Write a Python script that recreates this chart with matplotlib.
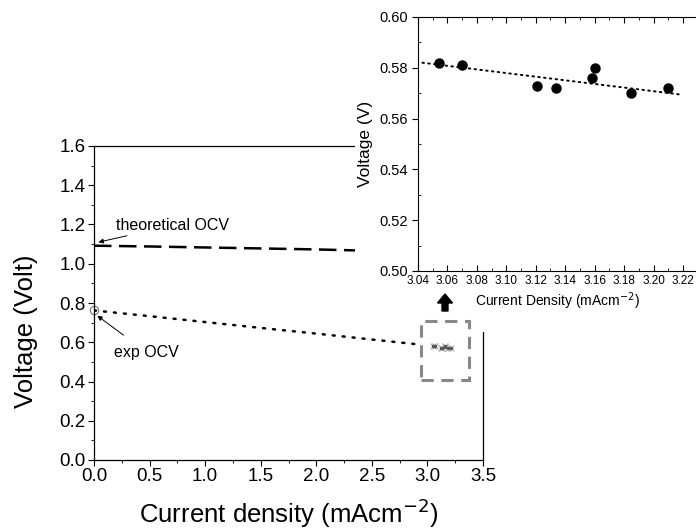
import matplotlib.pyplot as plt
from matplotlib.patches import Rectangle, FancyArrow
from matplotlib.ticker import MultipleLocator

plt.rcParams['font.family'] = ['Liberation Sans', 'DejaVu Sans']

# theoretical OCV (dashed)
theo_x = [0.0, 0.5, 1.0, 1.5, 2.0, 2.35]
theo_y = [1.092, 1.088, 1.083, 1.078, 1.073, 1.068]

# experimental trend (dotted)
exp_x = [0.0, 0.5, 1.0, 1.5, 2.0, 2.5, 2.9]
exp_y = [0.762, 0.733, 0.703, 0.673, 0.644, 0.614, 0.590]

# measured points (inset)
pts_x = [3.054, 3.070, 3.121, 3.134, 3.158, 3.1605, 3.185, 3.210]
pts_y = [0.582, 0.581, 0.573, 0.572, 0.576, 0.580, 0.570, 0.572]

# inset trendline end points
fit_x = [3.043, 3.218]
fit_y = [0.582, 0.5695]

W, H = 696, 531
fig = plt.figure(figsize=(W / 100, H / 100), dpi=100)

ax = fig.add_axes([94 / W, 1 - 460 / H, (483 - 94) / W, (460 - 146) / H])
ax.plot(theo_x, theo_y, color='black', lw=1.8, dashes=(7, 3))
ax.plot(exp_x, exp_y, color='black', lw=1.8, dashes=(0.8, 3.2),
        dash_capstyle='round')
ax.plot([exp_x[0]], [exp_y[0]], 'o', ms=6, mfc='none', mec='#777777', mew=0.8,
        clip_on=False)
ax.plot(pts_x, pts_y, 'x', ms=4, color='#aaaaaa', mew=0.8)
ax.plot(pts_x, pts_y, '.', ms=3, color='#555555')

ax.set_xlim(0, 3.5)
ax.set_ylim(0, 1.6)
ax.xaxis.set_major_locator(MultipleLocator(0.5))
ax.xaxis.set_minor_locator(MultipleLocator(0.25))
ax.yaxis.set_major_locator(MultipleLocator(0.2))
ax.yaxis.set_minor_locator(MultipleLocator(0.1))
ax.tick_params(which='major', direction='out', length=4, width=0.8,
               labelsize=13.5, pad=2)
ax.tick_params(which='minor', direction='out', length=2, width=0.6)
ax.set_xlabel('Current density (mAcm$^{-2}$)', fontsize=18.5, labelpad=8)
ax.set_ylabel('Voltage (Volt)', fontsize=18.5)
ax.yaxis.set_label_coords(-0.145, 0.41)
for s in ax.spines.values():
    s.set_linewidth(0.9)

ax.annotate('theoretical OCV', xy=(0.04, 1.11), xytext=(0.2, 1.195),
            fontsize=11.5, va='center', ha='left',
            arrowprops=dict(arrowstyle='-|>', color='black', lw=0.7,
                            mutation_scale=7, shrinkA=0, shrinkB=0))
ax.annotate('exp OCV', xy=(0.03, 0.735), xytext=(0.18, 0.55),
            fontsize=11.5, va='center', ha='left',
            arrowprops=dict(arrowstyle='-|>', color='black', lw=0.7,
                            mutation_scale=7, shrinkA=8, shrinkB=0))

# white panel of the inset picture
fig.add_artist(Rectangle((355 / W, 1 - 332 / H), 1, 1, transform=fig.transFigure,
                         facecolor='white', edgecolor='none', zorder=2))

# dashed zoom box
fig.add_artist(Rectangle((2.94, 0.406), 0.43, 0.30, transform=ax.transData,
                         facecolor='none', edgecolor='#888888', lw=2.2,
                         linestyle=(0, (4, 2.5)), zorder=5))

# black up arrow
fig.add_artist(FancyArrow(445 / W, 1 - 311 / H, 0, 17 / H, width=6 / W,
                          head_width=15 / W, head_length=9 / H,
                          length_includes_head=True, transform=fig.transFigure,
                          color='black', zorder=5))

# inset
ins = fig.add_axes([418 / W, 1 - 271 / H, (W - 418) / W, (271 - 17) / H], zorder=3)
ins.plot(fit_x, fit_y, color='black', lw=1.4, dashes=(0.8, 2.2),
         dash_capstyle='round')
ins.plot(pts_x, pts_y, 'o', color='black', ms=6.5)
ins.set_xlim(3.04, 3.04 + 278 / 1472)
ins.set_ylim(0.50, 0.60)
ins.set_xticks([3.04, 3.06, 3.08, 3.10, 3.12, 3.14, 3.16, 3.18, 3.20, 3.22])
ins.set_xticklabels(['3.04', '3.06', '3.08', '3.10', '3.12', '3.14', '3.16',
                     '3.18', '3.20', '3.22'])
ins.xaxis.set_minor_locator(MultipleLocator(0.01))
ins.yaxis.set_major_locator(MultipleLocator(0.02))
ins.yaxis.set_minor_locator(MultipleLocator(0.01))
ins.tick_params(axis='x', which='both', direction='in', top=True, labelsize=8.5,
                pad=3)
ins.tick_params(axis='x', which='major', length=4)
ins.tick_params(axis='x', which='minor', length=2)
ins.tick_params(axis='y', which='major', direction='out', length=4, labelsize=10.5)
ins.tick_params(axis='y', which='minor', direction='in', length=2)
ins.spines['right'].set_visible(False)
ins.set_xlabel('Current Density (mAcm$^{-2}$)', fontsize=10, labelpad=2)
ins.set_ylabel('Voltage (V)', fontsize=12.5, labelpad=4)

fig.savefig('out.png', dpi=100)
